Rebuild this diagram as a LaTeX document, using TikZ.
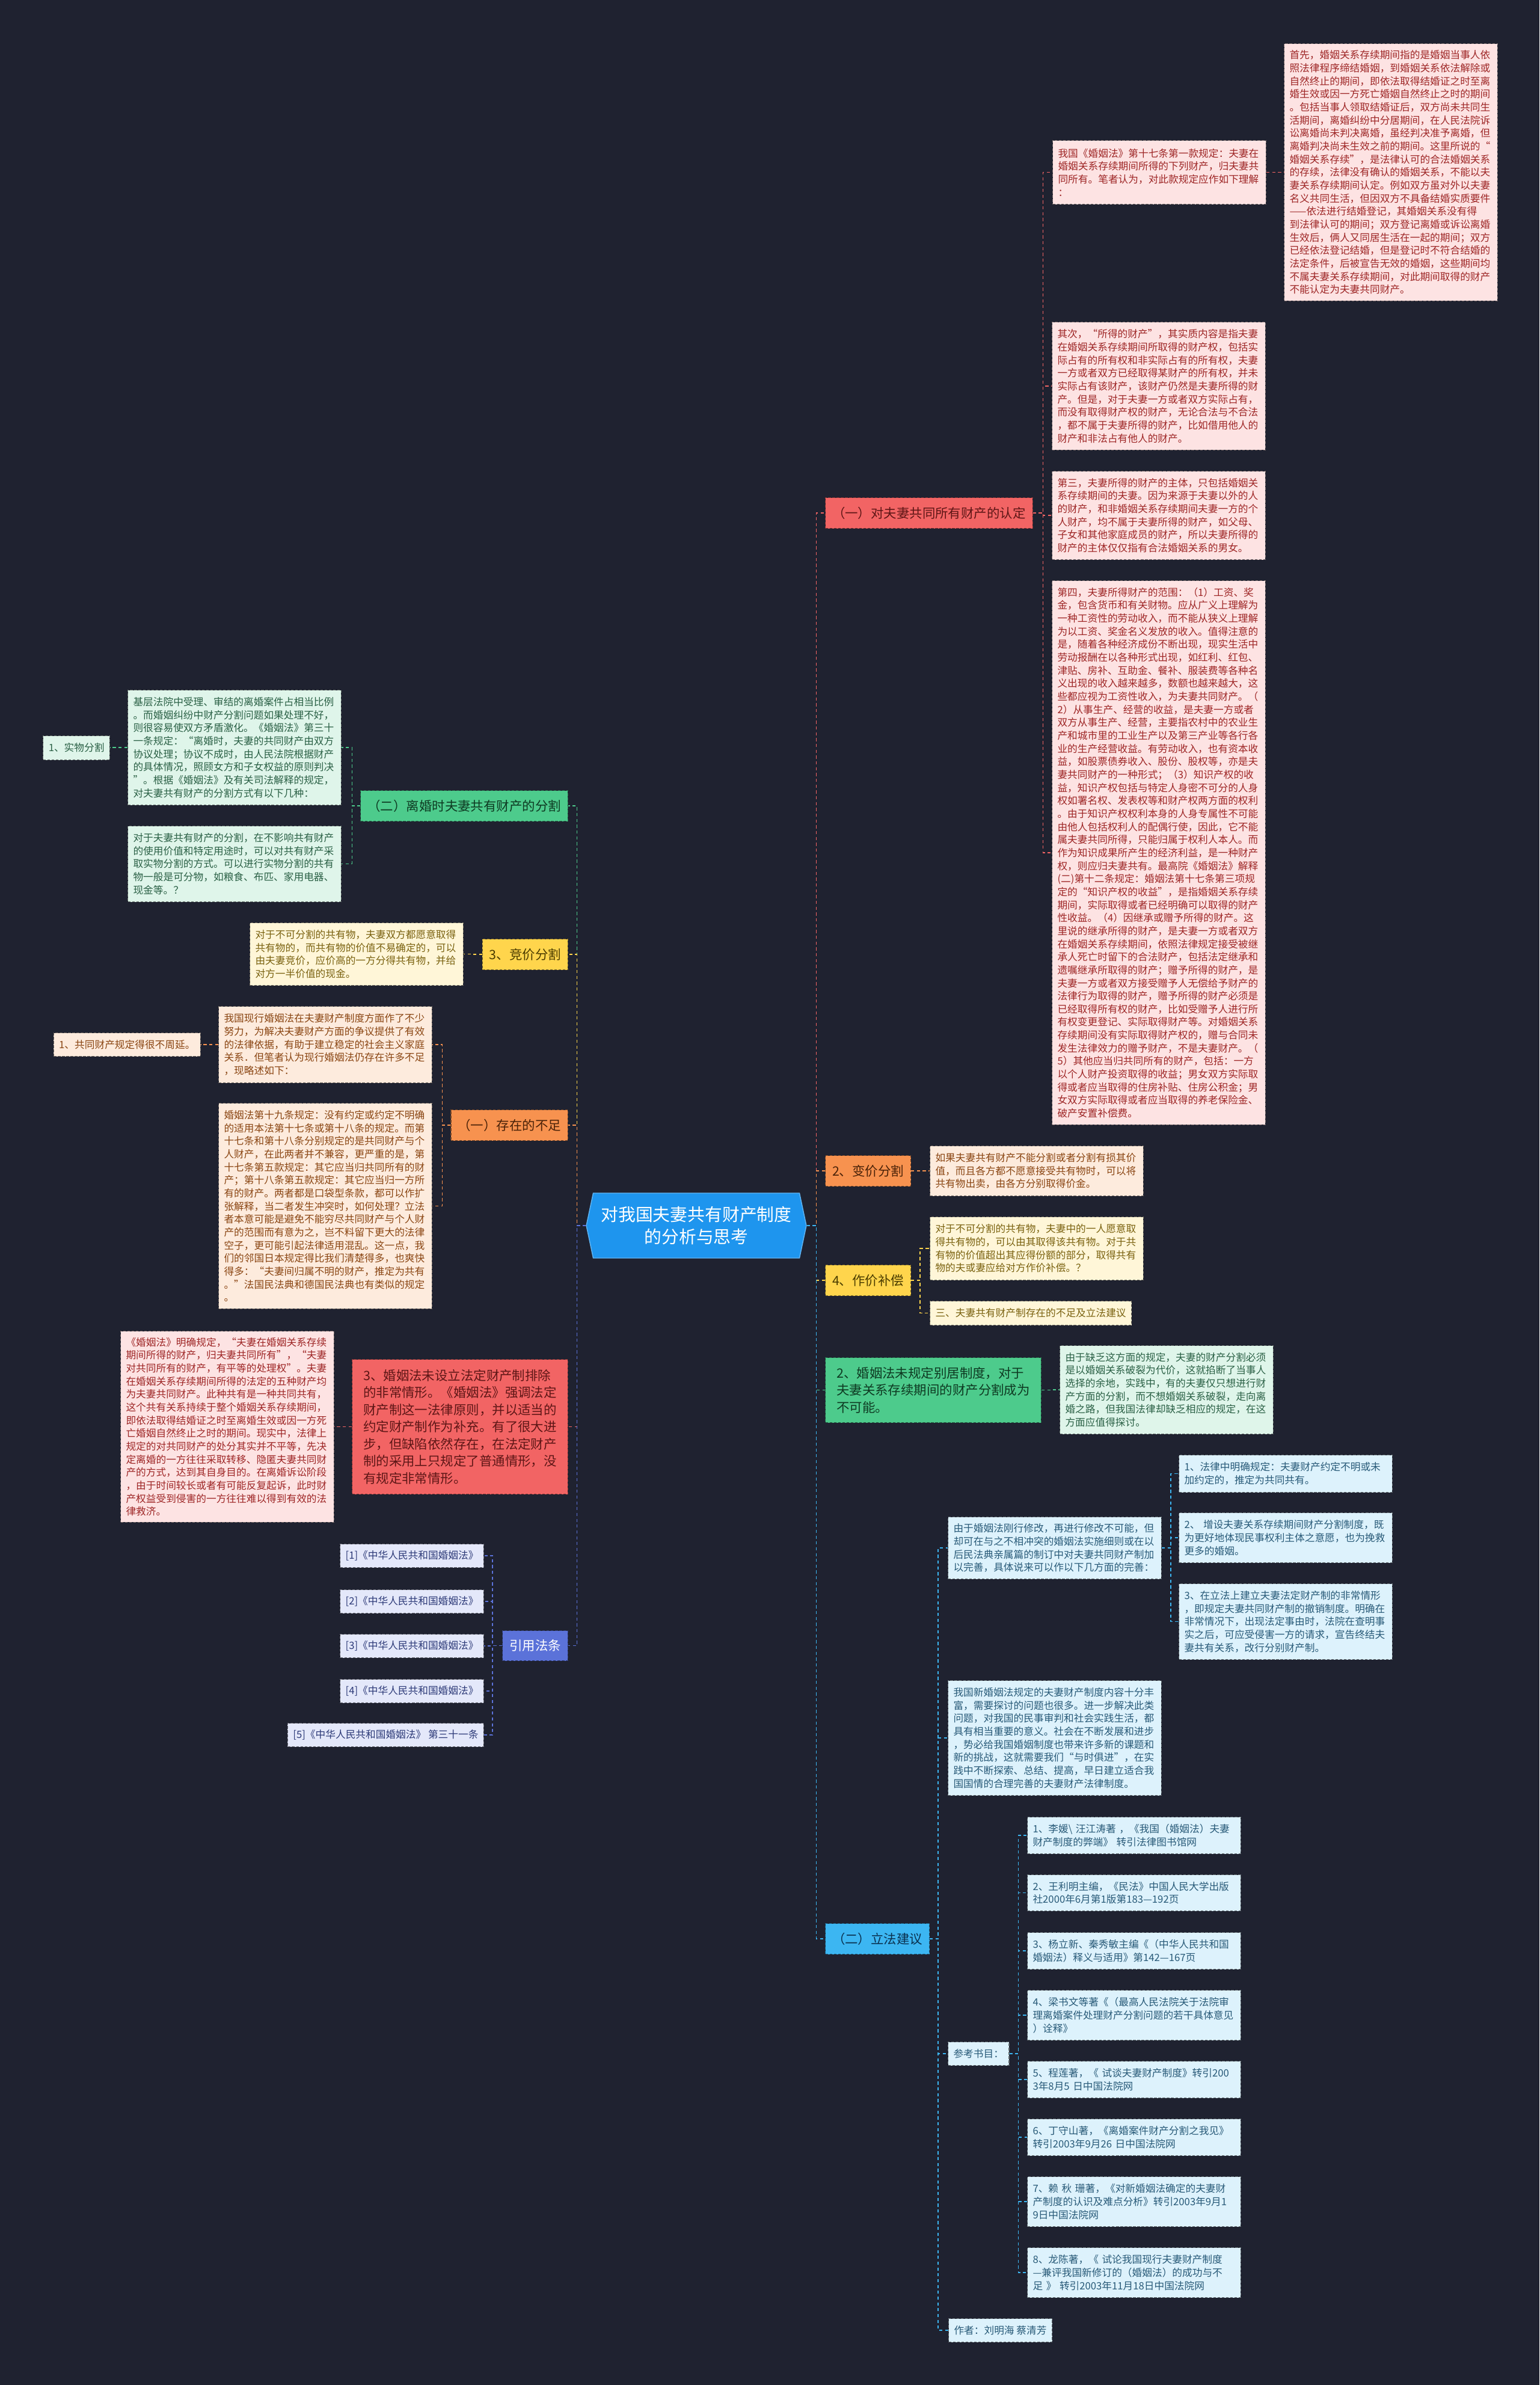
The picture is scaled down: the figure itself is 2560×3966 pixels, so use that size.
\documentclass[tikz,border=0pt]{standalone}
\usepackage{fontspec}
\setmainfont{Noto Sans CJK SC}
\usetikzlibrary{shapes.symbols}

\definecolor{bgdark}{HTML}{1F2230}
\definecolor{rootblue}{HTML}{1E95EE}
\definecolor{redmain}{HTML}{F26464}
\definecolor{redtext}{HTML}{5E1616}
\definecolor{pinkfill}{HTML}{FDE3E3}
\definecolor{pinktext}{HTML}{9E2626}
\definecolor{orgmain}{HTML}{F7924F}
\definecolor{orgtext}{HTML}{4A2208}
\definecolor{peachfill}{HTML}{FDEBDD}
\definecolor{peachtext}{HTML}{8A4512}
\definecolor{ylwmain}{HTML}{FFD54C}
\definecolor{ylwtext}{HTML}{4A3C00}
\definecolor{creamfill}{HTML}{FFF6D8}
\definecolor{creamtext}{HTML}{7A6210}
\definecolor{grnmain}{HTML}{4DCB8C}
\definecolor{grntext}{HTML}{0E3A22}
\definecolor{mintfill}{HTML}{DFF5EA}
\definecolor{minttext}{HTML}{2A6045}
\definecolor{bluemain}{HTML}{3CB6F2}
\definecolor{bluetext}{HTML}{0B3150}
\definecolor{skyfill}{HTML}{DDF2FC}
\definecolor{skytext}{HTML}{285A78}
\definecolor{vltmain}{HTML}{5B72D9}
\definecolor{lavfill}{HTML}{E4E8FA}
\definecolor{lavtext}{HTML}{2D3A78}

\newcommand{\smalltxt}{\fontsize{9.5}{12.33}\selectfont}
\newcommand{\midtxt}{\fontsize{12.2}{16.2}\selectfont}
\newcommand{\roottxt}{\fontsize{16.4}{20.8}\selectfont}

\begin{document}
\begin{tikzpicture}[
		x=0.02cm, y=-0.02cm,
		note/.style={draw, dash pattern=on 2.5pt off 1.5pt, line width=0.6pt, anchor=north west, align=left, font=\smalltxt, inner xsep=0.18cm, inner ysep=0.15cm, minimum height=0.78cm},
		box/.style={note, text width=6.74cm},
		lft/.style={anchor=north east},
		pinkc/.style={fill=pinkfill, draw=pinkfill!45!black, text=pinktext},
		peachc/.style={fill=peachfill, draw=peachfill!45!black, text=peachtext},
		creamc/.style={fill=creamfill, draw=creamfill!45!black, text=creamtext},
		mintc/.style={fill=mintfill, draw=mintfill!45!black, text=minttext},
		skyc/.style={fill=skyfill, draw=skyfill!45!black, text=skytext},
		lavc/.style={fill=lavfill, draw=lavfill!45!black, text=lavtext},
		topic/.style={draw, dash pattern=on 2.5pt off 1.5pt, line width=0.6pt, anchor=north west, align=left, font=\midtxt, inner xsep=0.23cm, inner ysep=0.15cm, minimum height=1.02cm},
		redtopic/.style={topic, fill=redmain, draw=redmain!50!black, text=redtext},
		orgtopic/.style={topic, fill=orgmain, draw=orgmain!50!black, text=orgtext},
		ylwtopic/.style={topic, fill=ylwmain, draw=ylwmain!50!black, text=ylwtext},
		grntopic/.style={topic, fill=grnmain, draw=grnmain!50!black, text=grntext},
		bluetopic/.style={topic, fill=bluemain, draw=bluemain!50!black, text=bluetext},
		vlttopic/.style={topic, fill=vltmain, draw=vltmain!50!black, text=white},
		root/.style={signal, signal to=west and east, signal pointer angle=156, fill=rootblue, draw=rootblue!70!white, line width=0.8pt, text=white, font=\roottxt, align=center, minimum width=7.32cm, minimum height=2.16cm, inner sep=0pt},
		link/.style={dash pattern=on 3pt off 2.5pt, line width=0.9pt}
		]
		
		\fill[bgdark] (0,0) rectangle (2560,3966);
		
		% ROOT NODE (Centre)
		\node[root] (root) at (1158,2038) {对我国夫妻共有财产制度\\的分析与思考};
		
		% RIGHT BRANCH 1 (Top)
		\node[redtopic] (n1) at (1372,827) {（一）对夫妻共同所有财产的认定};
		\node[box, pinkc, minimum height=2.12cm] (d1a) at (1750,233) {我国《婚姻法》第十七条第一款规定：夫妻在\\婚姻关系存续期间所得的下列财产，归夫妻共\\同所有。笔者认为，对此款规定应作如下理解\\：};
		\node[box, pinkc, minimum height=8.56cm] (d1b) at (2135,72) {首先，婚姻关系存续期间指的是婚姻当事人依\\照法律程序缔结婚姻，到婚姻关系依法解除或\\自然终止的期间，即依法取得结婚证之时至离\\婚生效或因一方死亡婚姻自然终止之时的期间\\。包括当事人领取结婚证后，双方尚未共同生\\活期间，离婚纠纷中分居期间，在人民法院诉\\讼离婚尚未判决离婚，虽经判决准予离婚，但\\离婚判决尚未生效之前的期间。这里所说的“\\婚姻关系存续”，是法律认可的合法婚姻关系\\的存续，法律没有确认的婚姻关系，不能以夫\\妻关系存续期间认定。例如双方虽对外以夫妻\\名义共同生活，但因双方不具备结婚实质要件\\——依法进行结婚登记，其婚姻关系没有得\\到法律认可的期间；双方登记离婚或诉讼离婚\\生效后，俩人又同居生活在一起的期间；双方\\已经依法登记结婚，但是登记时不符合结婚的\\法定条件，后被宣告无效的婚姻，这些期间均\\不属夫妻关系存续期间，对此期间取得的财产\\不能认定为夫妻共同财产。};
		\node[box, pinkc, minimum height=4.26cm] (d1c) at (1749,535) {其次，“所得的财产”，其实质内容是指夫妻\\在婚姻关系存续期间所取得的财产权，包括实\\际占有的所有权和非实际占有的所有权，夫妻\\一方或者双方已经取得某财产的所有权，并未\\实际占有该财产，该财产仍然是夫妻所得的财\\产。但是，对于夫妻一方或者双方实际占有，\\而没有取得财产权的财产，无论合法与不合法\\，都不属于夫妻所得的财产，比如借用他人的\\财产和非法占有他人的财产。};
		\node[box, pinkc, minimum height=2.94cm] (d1d) at (1749,783) {第三，夫妻所得的财产的主体，只包括婚姻关\\系存续期间的夫妻。因为来源于夫妻以外的人\\的财产，和非婚姻关系存续期间夫妻一方的个\\人财产，均不属于夫妻所得的财产，如父母、\\子女和其他家庭成员的财产，所以夫妻所得的\\财产的主体仅仅指有合法婚姻关系的男女。};
		\node[box, pinkc, minimum height=18.1cm] (d1e) at (1749,965) {第四，夫妻所得财产的范围：（1）工资、奖\\金，包含货币和有关财物。应从广义上理解为\\一种工资性的劳动收入，而不能从狭义上理解\\为以工资、奖金名义发放的收入。值得注意的\\是，随着各种经济成份不断出现，现实生活中\\劳动报酬在以各种形式出现，如红利、红包、\\津贴、房补、互助金、餐补、服装费等各种名\\义出现的收入越来越多，数额也越来越大，这\\些都应视为工资性收入，为夫妻共同财产。（\\2）从事生产、经营的收益，是夫妻一方或者\\双方从事生产、经营，主要指农村中的农业生\\产和城市里的工业生产以及第三产业等各行各\\业的生产经营收益。有劳动收入，也有资本收\\益，如股票债券收入、股份、股权等，亦是夫\\妻共同财产的一种形式；（3）知识产权的收\\益，知识产权包括与特定人身密不可分的人身\\权如署名权、发表权等和财产权两方面的权利\\。由于知识产权权利本身的人身专属性不可能\\由他人包括权利人的配偶行使，因此，它不能\\属夫妻共同所得，只能归属于权利人本人。而\\作为知识成果所产生的经济利益，是一种财产\\权，则应归夫妻共有。最高院《婚姻法》解释\\(二)第十二条规定：婚姻法第十七条第三项规\\定的“知识产权的收益”，是指婚姻关系存续\\期间，实际取得或者已经明确可以取得的财产\\性收益。（4）因继承或赠予所得的财产。这\\里说的继承所得的财产，是夫妻一方或者双方\\在婚姻关系存续期间，依照法律规定接受被继\\承人死亡时留下的合法财产，包括法定继承和\\遗嘱继承所取得的财产；赠予所得的财产，是\\夫妻一方或者双方接受赠予人无偿给予财产的\\法律行为取得的财产，赠予所得的财产必须是\\已经取得所有权的财产，比如受赠予人进行所\\有权变更登记、实际取得财产等。对婚姻关系\\存续期间没有实际取得财产权的，赠与合同未\\发生法律效力的赠予财产，不是夫妻财产。（\\5）其他应当归共同所有的财产，包括：一方\\以个人财产投资取得的收益；男女双方实际取\\得或者应当取得的住房补贴、住房公积金；男\\女双方实际取得或者应当取得的养老保险金、\\破产安置补偿费。};
		
		% RIGHT BRANCH 2 AND 3
		\node[orgtopic] (n2) at (1372,1921) {2、变价分割};
		\node[box, peachc, minimum height=1.66cm] (d2) at (1546,1905) {如果夫妻共有财产不能分割或者分割有损其价\\值，而且各方都不愿意接受共有物时，可以将\\共有物出卖，由各方分别取得价金。};
		\node[ylwtopic] (n3) at (1372,2103) {4、作价补偿};
		\node[box, creamc, minimum height=2.1cm] (d3a) at (1546,2023) {对于不可分割的共有物，夫妻中的一人愿意取\\得共有物的，可以由其取得该共有物。对于共\\有物的价值超出其应得份额的部分，取得共有\\物的夫或妻应给对方作价补偿。？};
		\node[note, creamc, minimum height=0.8cm] (d3b) at (1546,2163) {三、夫妻共有财产制存在的不足及立法建议};
		
		% RIGHT BRANCH 4
		\node[grntopic, minimum height=2.16cm, minimum width=7.18cm] (n4) at (1372,2257) {2、婚姻法未规定别居制度，对于\\夫妻关系存续期间的财产分割成为\\不可能。};
		\node[box, mintc, minimum height=2.94cm] (d4) at (1762,2237) {由于缺乏这方面的规定，夫妻的财产分割必须\\是以婚姻关系破裂为代价，这就掐断了当事人\\选择的余地，实践中，有的夫妻仅只想进行财\\产方面的分割，而不想婚姻关系破裂，走向离\\婚之路，但我国法律却缺乏相应的规定，在这\\方面应值得探讨。};
		
		% RIGHT BRANCH 5 (Bottom)
		\node[bluetopic] (n5) at (1372,3198) {（二）立法建议};
		\node[box, skyc, minimum height=2.06cm] (d5a) at (1576,2522) {由于婚姻法刚行修改，再进行修改不可能，但\\却可在与之不相冲突的婚姻法实施细则或在以\\后民法典亲属篇的制订中对夫妻共同财产制加\\以完善，具体说来可以作以下几方面的完善：};
		\node[box, skyc, minimum height=1.24cm] (e1) at (1960,2419) {1、法律中明确规定：夫妻财产约定不明或未\\加约定的，推定为共同共有。};
		\node[box, skyc, minimum height=1.66cm] (e2) at (1960,2515) {2、~增设夫妻关系存续期间财产分割制度，既\\为更好地体现民事权利主体之意愿，也为挽救\\更多的婚姻。};
		\node[box, skyc, minimum height=2.52cm] (e3) at (1960,2633) {3、在立法上建立夫妻法定财产制的非常情形\\，即规定夫妻共同财产制的撤销制度。明确在\\非常情况下，出现法定事由时，法院在查明事\\实之后，可应受侵害一方的请求，宣告终结夫\\妻共有关系，改行分别财产制。};
		\node[box, skyc, minimum height=3.82cm] (d5b) at (1576,2794) {我国新婚姻法规定的夫妻财产制度内容十分丰\\富，需要探讨的问题也很多。进一步解决此类\\问题，对我国的民事审判和社会实践生活，都\\具有相当重要的意义。社会在不断发展和进步\\，势必给我国婚姻制度也带来许多新的课题和\\新的挑战，这就需要我们“与时俱进”，在实\\践中不断探索、总结、提高，早日建立适合我\\国国情的合理完善的夫妻财产法律制度。};
		\node[note, skyc] (d5c) at (1576,3395) {参考书目：};
		\node[box, skyc, minimum height=1.22cm] (r1) at (1708,3021) {1、李媛\textbackslash~汪江涛著~，《我国（婚姻法）夫妻\\财产制度的弊端》~转引法律图书馆网};
		\node[box, skyc, minimum height=1.2cm] (r2) at (1708,3117) {2、王利明主编，《民法》中国人民大学出版\\社2000年6月第1版第183—192页};
		\node[box, skyc, minimum height=1.22cm] (r3) at (1708,3213) {3、杨立新、秦秀敏主编《（中华人民共和国\\婚姻法）释义与适用》第142—167页};
		\node[box, skyc, minimum height=1.66cm] (r4) at (1708,3309) {4、梁书文等著《（最高人民法院关于法院审\\理离婚案件处理财产分割问题的若干具体意见\\）诠释》};
		\node[box, skyc, minimum height=1.22cm] (r5) at (1708,3427) {5、程莲著，《~试谈夫妻财产制度》转引200\\3年8月5~日中国法院网};
		\node[box, skyc, minimum height=1.22cm] (r6) at (1708,3523) {6、丁守山著，《离婚案件财产分割之我见》\\转引2003年9月26~日中国法院网};
		\node[box, skyc, minimum height=1.66cm] (r7) at (1708,3619) {7、赖~秋~珊著，《对新婚姻法确定的夫妻财\\产制度的认识及难点分析》转引2003年9月1\\9日中国法院网};
		\node[box, skyc, minimum height=1.66cm] (r8) at (1708,3737) {8、龙陈著，《~试论我国现行夫妻财产制度\\—兼评我国新修订的（婚姻法）的成功与不\\足~》~转引2003年11月18日中国法院网};
		\node[note, skyc] (d5d) at (1577,3855) {作者：刘明海~蔡清芳};
		
		% LEFT BRANCH 1 (Top)
		\node[grntopic, lft] (m1) at (945,1314) {（二）离婚时夫妻共有财产的分割};
		\node[box, mintc, lft, minimum height=3.82cm] (l1a) at (568,1147) {基层法院中受理、审结的离婚案件占相当比例\\。而婚姻纠纷中财产分割问题如果处理不好，\\则很容易使双方矛盾激化。《婚姻法》第三十\\一条规定：“离婚时，夫妻的共同财产由双方\\协议处理；协议不成时，由人民法院根据财产\\的具体情况，照顾女方和子女权益的原则判决\\”。根据《婚姻法》及有关司法解释的规定，\\对夫妻共有财产的分割方式有以下几种：};
		\node[note, mintc, lft, minimum height=0.8cm] (l1x) at (183,1223) {1、实物分割};
		\node[box, mintc, lft, minimum height=2.52cm] (l1b) at (568,1373) {对于夫妻共有财产的分割，在不影响共有财产\\的使用价值和特定用途时，可以对共有财产采\\取实物分割的方式。可以进行实物分割的共有\\物一般是可分物，如粮食、布匹、家用电器、\\现金等。？};
		
		% LEFT BRANCH 2 AND 3
		\node[ylwtopic, lft] (m2) at (945,1561) {3、竞价分割};
		\node[box, creamc, lft, minimum height=2.08cm] (l2) at (771,1534) {对于不可分割的共有物，夫妻双方都愿意取得\\共有物的，而共有物的价值不易确定的，可以\\由夫妻竞价，应价高的一方分得共有物，并给\\对方一半价值的现金。};
		\node[orgtopic, lft] (m3) at (945,1845) {（一）存在的不足};
		\node[box, peachc, lft, minimum height=2.54cm] (l3a) at (719,1673) {我国现行婚姻法在夫妻财产制度方面作了不少\\努力，为解决夫妻财产方面的争议提供了有效\\的法律依据，有助于建立稳定的社会主义家庭\\关系．但笔者认为现行婚姻法仍存在许多不足\\，现略述如下：};
		\node[note, peachc, lft] (l3x) at (334,1717) {1、共同财产规定得很不周延。};
		\node[box, peachc, lft, minimum height=6.84cm] (l3b) at (719,1834) {婚姻法第十九条规定：没有约定或约定不明确\\的适用本法第十七条或第十八条的规定。而第\\十七条和第十八条分别规定的是共同财产与个\\人财产，在此两者并不兼容，更严重的是，第\\十七条第五款规定：其它应当归共同所有的财\\产；第十八条第五款规定：其它应当归一方所\\有的财产。两者都是口袋型条款，都可以作扩\\张解释，当二者发生冲突时，如何处理？立法\\者本意可能是避免不能穷尽共同财产与个人财\\产的范围而有意为之，岂不料留下更大的法律\\空子，更可能引起法律适用混乱。这一点，我\\们的邻国日本规定得比我们清楚得多，也爽快\\得多：“夫妻间归属不明的财产，推定为共有\\。”法国民法典和德国民法典也有类似的规定\\。};
		
		% LEFT BRANCH 4
		\node[redtopic, lft, minimum height=4.48cm, minimum width=7.18cm] (m4) at (945,2260) {3、婚姻法未设立法定财产制排除\\的非常情形。《婚姻法》强调法定\\财产制这一法律原则，并以适当的\\约定财产制作为补充。有了很大进\\步，但缺陷依然存在，在法定财产\\制的采用上只规定了普通情形，没\\有规定非常情形。};
		\node[box, pinkc, lft, minimum height=6.36cm] (l4) at (556,2213) {《婚姻法》明确规定，“夫妻在婚姻关系存续\\期间所得的财产，归夫妻共同所有”，“夫妻\\对共同所有的财产，有平等的处理权”。夫妻\\在婚姻关系存续期间所得的法定的五种财产均\\为夫妻共同财产。此种共有是一种共同共有，\\这个共有关系持续于整个婚姻关系存续期间，\\即依法取得结婚证之时至离婚生效或因一方死\\亡婚姻自然终止之时的期间。现实中，法律上\\规定的对共同财产的处分其实并不平等，先决\\定离婚的一方往往采取转移、隐匿夫妻共同财\\产的方式，达到其自身目的。在离婚诉讼阶段\\，由于时间较长或者有可能反复起诉，此时财\\产权益受到侵害的一方往往难以得到有效的法\\律救济。};
		
		% LEFT BRANCH 5 (Bottom)
		\node[vlttopic, lft, minimum height=1.0cm] (m5) at (945,2711) {引用法条};
		\node[note, lavc, lft] (c1) at (805,2567) {[1]《中华人民共和国婚姻法》};
		\node[note, lavc, lft] (c2) at (805,2643) {[2]《中华人民共和国婚姻法》};
		\node[note, lavc, lft] (c3) at (805,2717) {[3]《中华人民共和国婚姻法》};
		\node[note, lavc, lft] (c4) at (805,2792) {[4]《中华人民共和国婚姻法》};
		\node[note, lavc, lft] (c5) at (805,2865) {[5]《中华人民共和国婚姻法》~第三十一条};
		
		% CONNECTIONS (right)
		\draw[link, draw=redmain] (root.east) -- ++(16,0) |- (n1.west);
		\draw[link, draw=orgmain] (root.east) -- ++(16,0) |- (n2.west);
		\draw[link, draw=ylwmain] (root.east) -- ++(16,0) |- (n3.west);
		\draw[link, draw=grnmain] (root.east) -- ++(16,0) |- (n4.west);
		\draw[link, draw=bluemain] (root.east) -- ++(16,0) |- (n5.west);
		
		\draw[link, draw=redmain] (n1.east) -- ++(17,0) |- (d1a.west);
		\draw[link, draw=redmain] (n1.east) -- ++(17,0) |- (d1c.west);
		\draw[link, draw=redmain] (n1.east) -- ++(17,0) |- (d1d.west);
		\draw[link, draw=redmain] (n1.east) -- ++(17,0) |- (d1e.west);
		\draw[link, draw=redmain] (d1a.east) -- (d1a.east -| d1b.west);
		\draw[link, draw=orgmain] (n2.east) -- ++(15,0) |- (d2.west);
		\draw[link, draw=ylwmain] (n3.east) -- ++(15,0) |- (d3a.west);
		\draw[link, draw=ylwmain] (n3.east) -- ++(15,0) |- (d3b.west);
		\draw[link, draw=grnmain] (n4.east) -- ++(15,0) |- (d4.west);
		\draw[link, draw=bluemain] (n5.east) -- ++(14,0) |- (d5a.west);
		\draw[link, draw=bluemain] (n5.east) -- ++(14,0) |- (d5b.west);
		\draw[link, draw=bluemain] (n5.east) -- ++(14,0) |- (d5c.west);
		\draw[link, draw=bluemain] (n5.east) -- ++(14,0) |- (d5d.west);
		\draw[link, draw=bluemain] (d5a.east) -- ++(15,0) |- (e1.west);
		\draw[link, draw=bluemain] (d5a.east) -- ++(15,0) |- (e2.west);
		\draw[link, draw=bluemain] (d5a.east) -- ++(15,0) |- (e3.west);
		\draw[link, draw=bluemain] (d5c.east) -- ++(15,0) |- (r1.west);
		\draw[link, draw=bluemain] (d5c.east) -- ++(15,0) |- (r2.west);
		\draw[link, draw=bluemain] (d5c.east) -- ++(15,0) |- (r3.west);
		\draw[link, draw=bluemain] (d5c.east) -- ++(15,0) |- (r4.west);
		\draw[link, draw=bluemain] (d5c.east) -- ++(15,0) |- (r5.west);
		\draw[link, draw=bluemain] (d5c.east) -- ++(15,0) |- (r6.west);
		\draw[link, draw=bluemain] (d5c.east) -- ++(15,0) |- (r7.west);
		\draw[link, draw=bluemain] (d5c.east) -- ++(15,0) |- (r8.west);
		
		% CONNECTIONS (left)
		\draw[link, draw=grnmain] (root.west) -- ++(-15,0) |- (m1.east);
		\draw[link, draw=ylwmain] (root.west) -- ++(-15,0) |- (m2.east);
		\draw[link, draw=orgmain] (root.west) -- ++(-15,0) |- (m3.east);
		\draw[link, draw=redmain] (root.west) -- ++(-15,0) |- (m4.east);
		\draw[link, draw=vltmain] (root.west) -- ++(-15,0) |- (m5.east);
		
		\draw[link, draw=grnmain] (m1.west) -- ++(-14,0) |- (l1a.east);
		\draw[link, draw=grnmain] (m1.west) -- ++(-14,0) |- (l1b.east);
		\draw[link, draw=grnmain] (l1a.west) -- (l1a.west -| l1x.east);
		\draw[link, draw=ylwmain] (m2.west) -- ++(-15,0) |- (l2.east);
		\draw[link, draw=orgmain] (m3.west) -- ++(-14,0) |- (l3a.east);
		\draw[link, draw=orgmain] (m3.west) -- ++(-14,0) |- (l3b.east);
		\draw[link, draw=orgmain] (l3a.west) -- (l3a.west -| l3x.east);
		\draw[link, draw=redmain] (m4.west) -- ++(-15,0) |- (l4.east);
		\draw[link, draw=vltmain] (m5.west) -- ++(-16,0) |- (c1.east);
		\draw[link, draw=vltmain] (m5.west) -- ++(-16,0) |- (c2.east);
		\draw[link, draw=vltmain] (m5.west) -- ++(-16,0) |- (c3.east);
		\draw[link, draw=vltmain] (m5.west) -- ++(-16,0) |- (c4.east);
		\draw[link, draw=vltmain] (m5.west) -- ++(-16,0) |- (c5.east);
		
	\end{tikzpicture}
\end{document}
